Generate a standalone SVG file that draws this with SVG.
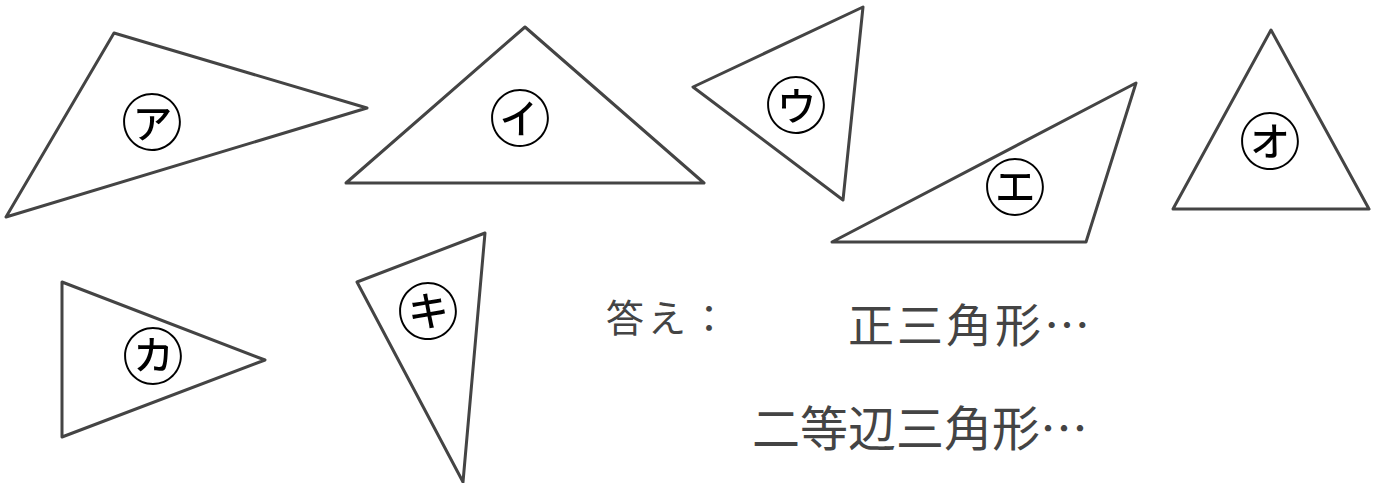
<svg xmlns="http://www.w3.org/2000/svg" width="1376" height="483" viewBox="0 0 1376 483">
<style>
.tri{fill:none;stroke:#444;stroke-width:3;stroke-linejoin:round}
.lbl{font-family:"Noto Sans CJK JP","Noto Sans CJK SC",sans-serif;font-size:62px;fill:#000;text-anchor:middle;dominant-baseline:central}
.ans{font-family:"Noto Sans CJK JP","Noto Sans CJK SC",sans-serif;fill:#444}
</style>
<rect width="1376" height="483" fill="#fff"/>
<g id="tri-a"><polygon class="tri" points="114,33 367,108 6,217"/><text class="lbl" x="152" y="119">㋐</text></g>
<g id="tri-i"><polygon class="tri" points="525,27 704,183 346,183"/><text class="lbl" x="520" y="115">㋑</text></g>
<g id="tri-u"><polygon class="tri" points="863,7 843,200 693,87"/><text class="lbl" x="796" y="102">㋒</text></g>
<g id="tri-e"><polygon class="tri" points="1136,83 1086,242 832,242"/><text class="lbl" x="1015" y="184">㋓</text></g>
<g id="tri-o"><polygon class="tri" points="1271,30 1369,209 1173,209"/><text class="lbl" x="1270" y="138">㋔</text></g>
<g id="tri-ka"><polygon class="tri" points="62,282 265,360 62,437"/><text class="lbl" x="153" y="353">㋕</text></g>
<g id="tri-ki"><polygon class="tri" points="357,282 485,233 463,482"/><text class="lbl" x="428" y="308">㋖</text></g>
<g id="answer">
<text class="ans" x="606" y="332" font-size="38" letter-spacing="4">答え：</text>
<text class="ans" x="848" y="342" font-size="46" letter-spacing="3">正三角形…</text>
<text class="ans" x="752" y="446" font-size="48">二等辺三角形…</text>
</g>
</svg>
